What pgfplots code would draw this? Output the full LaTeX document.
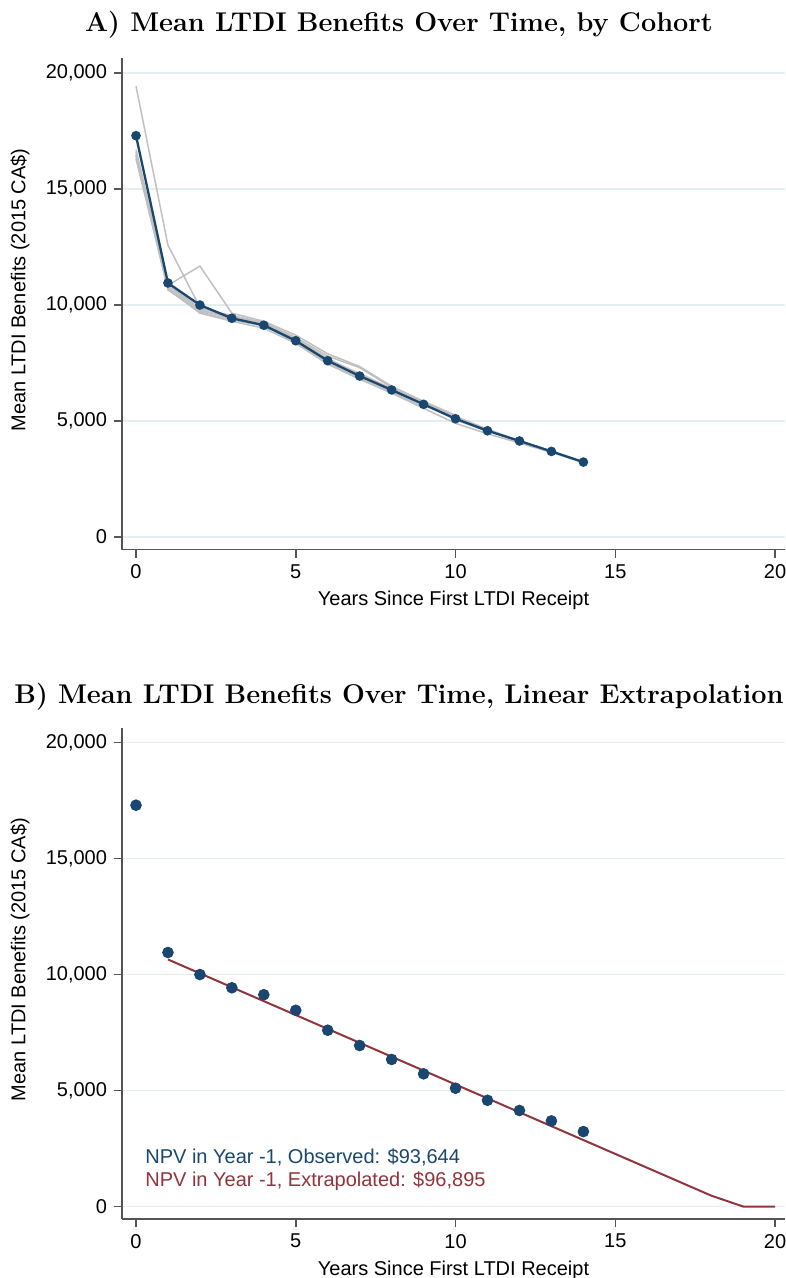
\documentclass[border=0pt]{standalone}
\usepackage{fontspec}
\usepackage{pgfplots}
\pgfplotsset{compat=1.18}
\newfontfamily\stata{Liberation Sans}

\definecolor{navy}{HTML}{1A476F}
\definecolor{maroon}{HTML}{90353B}
\definecolor{cohort}{HTML}{C0C0C0}
\definecolor{gridc}{HTML}{E4EDF0}
\definecolor{axisc}{HTML}{555555}

\pgfplotsset{
  stataax/.style={
    scale only axis, width=331.5pt, height=245.75pt,
    xmin=-0.438, xmax=20.31, ymin=-539, ymax=20650,
    axis x line*=bottom, axis y line*=left,
    axis line style={axisc, line width=0.9pt, -},
    tick style={axisc, line width=0.8pt},
    tick align=outside, major tick length=4pt,
    xtick={0,5,10,15,20}, ytick={0,5000,10000,15000,20000},
    scaled y ticks=false,
    ymajorgrids, major grid style={gridc, line width=0.7pt},
    font=\stata\fontsize{10}{12}\selectfont,
    ticklabel style={font=\stata\fontsize{10}{12}\selectfont},
    /pgf/number format/assume math mode=true,
    yticklabel style={/pgf/number format/.cd, 1000 sep={,}},
    xlabel={Years Since First LTDI Receipt},
    ylabel={Mean LTDI Benefits (2015 CA\$)},
    xlabel style={at={(axis description cs:0.5,-0.1037)}, anchor=center},
    ylabel style={at={(axis description cs:-0.1538,0.528)}, anchor=center},
    clip=false,
  },
  grayline/.style={cohort, line width=0.75pt, no markers},
}

\begin{document}
\begin{tikzpicture}
\path[use as bounding box] (0,0) rectangle (393pt,-639pt);

\node[anchor=base, font=\fontsize{13.55}{16}\selectfont\bfseries] at (199.5pt,-15.8pt)
  {A) Mean LTDI Benefits Over Time, by Cohort};
\node[anchor=base, font=\fontsize{13.55}{16}\selectfont\bfseries] at (199.5pt,-351.5pt)
  {B) Mean LTDI Benefits Over Time, Linear Extrapolation};

% panel A
\begin{axis}[stataax, at={(61pt,-274.75pt)}, anchor=south west]
\addplot[grayline] coordinates {(0,19440) (1,12580) (2,9900) (3,9450)};
\addplot[grayline] coordinates {(0,16400) (1,10850) (2,11680) (3,9650) (4,9300) (5,8700) (6,7900) (7,7350) (8,6500) (9,5850) (10,5250)};
\addplot[grayline] coordinates {(0,16300) (1,10700) (2,9650) (3,9300) (4,9000) (5,8350) (6,7450) (7,6800) (8,6200) (9,5550) (10,4900) (11,4450) (12,4050) (13,3650) (14,3200)};
\addplot[grayline] coordinates {(0,16700) (1,10850) (2,9800) (3,9400) (4,9150) (5,8500) (6,7650) (7,7050) (8,6400) (9,5800) (10,5200) (11,4650) (12,4150) (13,3700)};
\addplot[grayline] coordinates {(0,16500) (1,10750) (2,9750) (3,9500) (4,9200) (5,8550) (6,7700) (7,7000) (8,6300) (9,5700) (10,5100) (11,4600) (12,4100)};
\addplot[grayline] coordinates {(0,16600) (1,10900) (2,9850) (3,9550) (4,9250) (5,8600) (6,7800) (7,7300) (8,6450) (9,5750) (10,5050) (11,4550)};
\addplot[grayline] coordinates {(0,16450) (1,10650) (2,9700) (3,9350) (4,9100) (5,8400) (6,7500) (7,6850) (8,6250) (9,5600)};
\addplot[navy, line width=1.15pt, mark=*, mark size=1.8pt, mark options={fill=navy, draw=navy}] coordinates {
  (0,17300) (1,10950) (2,10000) (3,9430) (4,9130) (5,8460) (6,7600) (7,6940)
  (8,6340) (9,5720) (10,5100) (11,4580) (12,4140) (13,3690) (14,3230)};
\end{axis}

% panel B
\begin{axis}[stataax, at={(61pt,-609.5pt)}, anchor=south west]
\addplot[maroon, line width=1pt, no markers] coordinates {(1,10650) (18,470) (19,0) (20,0)};
\addplot[only marks, mark=*, mark size=2.7pt, mark options={fill=navy, draw=navy}] coordinates {
  (0,17300) (1,10950) (2,10000) (3,9430) (4,9130) (5,8460) (6,7600) (7,6940)
  (8,6340) (9,5720) (10,5100) (11,4580) (12,4140) (13,3690) (14,3230)};
\node[anchor=west, text=navy, inner sep=0pt, font=\stata\fontsize{10}{12}\selectfont] at (axis cs:0.28,2110) {NPV in Year -1, Observed: \$93,644};
\node[anchor=west, text=maroon, inner sep=0pt, font=\stata\fontsize{10}{12}\selectfont] at (axis cs:0.28,1080) {NPV in Year -1, Extrapolated: \$96,895};
\end{axis}
\end{tikzpicture}
\end{document}
